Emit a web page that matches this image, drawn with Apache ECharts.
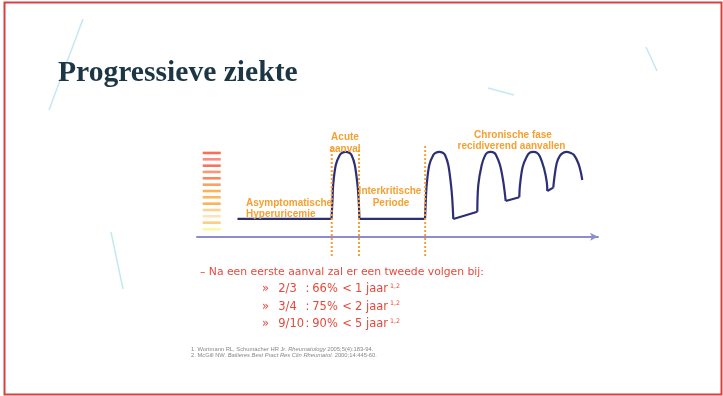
<!DOCTYPE html>
<html><head><meta charset="utf-8">
<script src="https://cdn.jsdelivr.net/npm/echarts@6/dist/echarts.min.js"></script>
<style>html,body{margin:0;padding:0;background:#fff}#c{width:723px;height:396px}</style>
</head><body><div id="c"></div>
<script>
// ---- data (x: time units 0..100, y: severity units) ----
const levelBars = [0.88,1.66,2.42,3.16,3.91,4.67,5.41,6.16,6.92,7.67,8.41,9.17,9.92];
const levelBarX = 3.67;
const flat1 = [[10.1,2.1],[33.54,2.1]];
const arch1 = [[33.54,2.1],[33.8,4.5],[33.96,6.13],[34.61,8.5],[35.61,9.68],[36.25,9.95],[37.1,10.05],[37.95,9.95],[38.53,9.68],[39.35,8.5],[40.02,6.13],[40.3,4.5],[40.5,2.1]];
const flat2 = [[40.5,2.1],[56.86,2.1]];
const arch2 = [[56.86,2.1],[57.08,4.5],[57.28,6.13],[57.93,8.5],[58.93,9.68],[59.57,9.95],[60.42,10.05],[61.27,9.95],[61.85,9.68],[62.67,8.5],[63.34,6.13],[63.65,4.5],[63.92,2.1]];
const link2 = [[63.92,2.1],[69.9,2.96]];
const arch3 = [[69.9,2.96],[70.15,6.13],[71.0,8.5],[71.82,9.6],[72.4,9.95],[73.24,10.05],[74.08,9.95],[74.56,9.68],[75.56,8.5],[76.38,6.52],[76.98,4.23]];
const link3 = [[76.98,4.23],[80.37,4.67]];
const arch4 = [[80.37,4.67],[80.55,6.13],[81.22,8.29],[82.22,9.48],[83.0,9.95],[83.87,10.05],[84.72,9.95],[85.54,9.48],[86.53,8.1],[87.21,6.52],[87.36,5.41]];
const link4 = [[87.36,5.41],[88.85,5.81]];
const arch5 = [[88.85,5.81],[89.1,6.92],[89.7,8.7],[90.52,9.6],[91.35,9.95],[92.19,10.05],[93.05,9.95],[94.01,9.68],[95.09,8.7],[95.69,7.7],[96.08,6.72]];
const phaseBounds = [33.6, 40.4, 56.9];
const phaseTop = [10.6, 10.6, 10.9];
const phaseBottom = -2.3;

// ---- texts ----
const titleText = 'Progressieve ziekte';
const phaseLabels = ['Acute','aanval','Asymptomatische','Hyperuricemie','Interkritische','Periode','Chronische fase','recidiverend aanvallen'];
const introLine = '– Na een eerste aanval zal er een tweede volgen bij:';
const fractions = ['2/3','3/4','9/10'];
const percents = ['66%','75%','90%'];
const years = ['1 jaar','2 jaar','5 jaar'];
const refSup = '1,2';

// ---- styles ----
const barColors = ['#fcf590','#fcc060','#fddcaa','#fcc878','#f8a030','#f9a838','#f9a030','#f88a40','#f66a30','#f88050','#f65034','#f87060','#f74a2a'];
const orange = '#f5a030';
const navy = '#2c2f76';
const red = '#e9483a';

const chart = echarts.init(document.getElementById('c'));

const curveParts = [flat1, arch1, flat2, arch2, link2, arch3, link3, arch4, link4, arch5];
const curveSmooth = [false,true,false,true,false,true,false,true,false,true];
const series = curveParts.map((d,i)=>({
  type:'line', data:d, symbol:'none', smooth: curveSmooth[i] ? 0.35 : false, clip:false,
  lineStyle:{color:navy,width:2.2}, z:3, silent:true
}));
phaseBounds.forEach((x,i)=>series.push({
  type:'line', data:[[x,phaseBottom],[x,phaseTop[i]]], symbol:'none', clip:false,
  lineStyle:{color:orange,width:2,type:[2,2]}, z:4, silent:true
}));
series.push({
  type:'scatter', data: levelBars.map((y,i)=>({value:[levelBarX,y], itemStyle:{color:barColors[i]}})),
  symbol:'rect', symbolSize:[18,2.6], clip:false, z:2, silent:true
});

const T = (text,x,y,font,fill,align,extra) => Object.assign({
  type:'text', x, y, z:10, silent:true,
  style:{text, font, fill, textAlign:align||'left', align:align||'left', textVerticalAlign:'middle', verticalAlign:'middle'}
}, extra||{});

const lf = 'bold 10px "Liberation Sans", Arial, sans-serif';
const graphic = [
  {type:'rect', shape:{x:4.5,y:2.5,width:717,height:392}, style:{fill:null, stroke:'#d8403f', lineWidth:2}, z:1, silent:true},
  {type:'line', shape:{x1:83,y1:19,x2:49,y2:110}, style:{stroke:'#c4e8f2', lineWidth:1.5}, z:0, silent:true},
  {type:'line', shape:{x1:111,y1:232,x2:123,y2:289}, style:{stroke:'#c4e8f2', lineWidth:1.5}, z:0, silent:true},
  {type:'line', shape:{x1:646,y1:47,x2:657,y2:71}, style:{stroke:'#c4e8f2', lineWidth:1.5}, z:0, silent:true},
  {type:'line', shape:{x1:488,y1:88,x2:514,y2:95}, style:{stroke:'#c4e8f2', lineWidth:1.5}, z:0, silent:true},
  T(titleText, 58, 73, 'bold 29.6px "Liberation Serif", "Times New Roman", serif', '#1c3644'),
  T(phaseLabels[0], 345, 137.5, lf, orange, 'center'),
  T(phaseLabels[1], 345, 149, lf, orange, 'center'),
  T(phaseLabels[2], 246, 203.7, lf, orange),
  T(phaseLabels[3], 246, 214.3, lf, orange),
  T(phaseLabels[4], 390, 191.7, lf, orange, 'center'),
  T(phaseLabels[5], 391, 203.3, lf, orange, 'center'),
  T(phaseLabels[6], 513, 135, lf, orange, 'center'),
  T(phaseLabels[7], 511.5, 146.5, lf, orange, 'center'),
  T(introLine, 200, 272.3, '10.8px "DejaVu Sans", Verdana, sans-serif', red),
  {type:'text', x:191, y:349, z:10, silent:true, style:{
    text:'{a|1. Wortmann RL, Schumacher HR Jr. }{i|Rheumatology}{a| 2005;5(4):183-94.}',
    fill:'#888', verticalAlign:'middle', textVerticalAlign:'middle',
    rich:{a:{fontSize:5.8, fontFamily:'"Liberation Sans", Arial', fill:'#888', color:'#888'}, i:{fontSize:5.8, fontStyle:'italic', fontFamily:'"Liberation Sans", Arial', fill:'#888', color:'#888'}}}},
  {type:'text', x:191, y:355, z:10, silent:true, style:{
    text:'{a|2. McGill NW. }{i|Bailieres Best Pract Res Clin Rheumatol.}{a| 2000;14:445-60.}',
    fill:'#888', verticalAlign:'middle', textVerticalAlign:'middle',
    rich:{a:{fontSize:5.8, fontFamily:'"Liberation Sans", Arial', fill:'#888', color:'#888'}, i:{fontSize:5.8, fontStyle:'italic', fontFamily:'"Liberation Sans", Arial', fill:'#888', color:'#888'}}}}
];
const rowY = [289.5, 307, 324.5];
const bf = '11.5px "DejaVu Sans", Verdana, sans-serif';
fractions.forEach((f,i)=>{
  const y = rowY[i];
  graphic.push(T('»', 262, y, bf, red));
  graphic.push(T(f, 278.3, y, bf, red));
  graphic.push(T(':', 305.5, y, bf, red));
  graphic.push(T(percents[i], 312.3, y, bf, red));
  graphic.push(T('<', 342.3, y, bf, red));
  graphic.push(T(years[i], 355, y, bf, red));
  graphic.push(T(refSup, 390, y-3.5, '6.3px "DejaVu Sans", Verdana, sans-serif', red));
});

chart.setOption({
  animation:false,
  backgroundColor:'#ffffff',
  grid:{left:197, right:125, top:135.4, bottom:134, containLabel:false},
  xAxis:{type:'value', min:0, max:100, axisLine:{show:true, onZero:true, symbol:['none','arrow'], symbolSize:[6,8], lineStyle:{color:'#8c8cd0', width:2}},
    axisTick:{show:false}, axisLabel:{show:false}, splitLine:{show:false}},
  yAxis:{type:'value', min:-3, max:12, show:false, splitLine:{show:false}},
  series,
  graphic
});
</script></body></html>
